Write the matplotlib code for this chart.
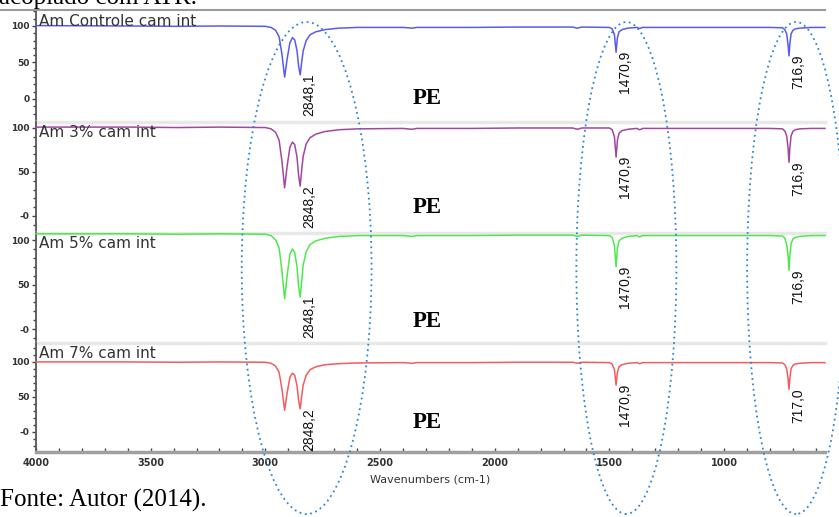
import numpy as np
import matplotlib.pyplot as plt
import matplotlib.transforms as mtransforms
from matplotlib.patches import Ellipse
from matplotlib.ticker import MultipleLocator

# SPECTRA (ATR-FTIR, % transmittance)

wavenumbers = [4000, 3600, 3380, 3200, 3000,
               2975, 2955, 2940, 2928, 2916,
               2905, 2893, 2882, 2872, 2862,
               2855, 2841, 2835, 2822, 2805,
               2780, 2740, 2680, 2600, 2400,
               2360, 2340, 2100, 1900, 1660,
               1640, 1620, 1500, 1488, 1478,
               1465, 1458, 1445, 1420, 1380,
               1368, 1355, 1200, 1000, 800,
               745, 735, 727, 721, 713,
               708, 700, 690, 670, 620, 560]

t_controle = [100.5, 100, 99.5, 100, 99.5,
              98, 94, 85, 62, 30,
              55, 77, 84, 81, 66,
              45, 52, 66, 80, 88,
              92, 95, 97, 98, 98,
              97, 98, 98, 98.5, 98.5,
              97, 98.5, 98, 96, 88,
              84, 92, 95, 97, 98,
              96.5, 98, 98, 98, 98,
              97.5, 95, 89, 74, 76,
              89, 94, 96, 97, 98, 98]

t_3 = [101, 101, 100.5, 101, 100.5,
       99, 95, 86, 63, 32,
       57, 78, 84, 81, 67,
       46, 54, 68, 82, 89,
       93, 96, 98, 99, 99.5,
       98.5, 99.5, 99.5, 100, 100,
       98.5, 100, 100, 98, 90,
       86, 94, 97, 98.5, 99.5,
       98, 99.5, 99.5, 99.5, 99.5,
       99, 96.5, 91, 77, 78,
       91, 96, 98, 99, 99.5, 99.5]

t_5 = [107, 107, 106.5, 107, 106.5,
       105, 100, 91, 66, 34,
       60, 84, 90, 86, 70,
       48, 56, 72, 87, 95,
       99, 102, 104, 105, 105,
       104, 105, 105, 105.5, 105.5,
       104, 105.5, 105, 103, 94,
       91, 99, 102, 104, 105,
       103.5, 105, 105, 105, 105,
       104.5, 102, 95, 82, 83,
       96, 101, 103, 104, 105, 105]

t_7 = [100, 100, 99.5, 100, 99.5,
       98, 94, 85, 62, 31,
       56, 78, 84, 81, 66,
       45, 53, 67, 81, 89,
       93, 96, 97.5, 98.5, 99,
       98, 99, 99, 99.5, 99.5,
       98, 99.5, 99, 97, 89,
       85, 93, 96, 98, 99,
       97.5, 99, 99, 99, 99,
       98.5, 96, 90, 76, 77,
       90, 95, 97, 98, 99, 99]

names = ["Am Controle cam int", "Am 3% cam int", "Am 5% cam int", "Am 7% cam int"]
spectra = [t_controle, t_3, t_5, t_7]
colors = ["#5a5af0", "#a047a0", "#4ee84e", "#f25c5c"]

# labelled peaks (position, minimum)
peak_positions = [[2848.1, 1470.9, 716.9],
                  [2848.2, 1470.9, 716.9],
                  [2848.1, 1470.9, 716.9],
                  [2848.2, 1470.9, 717.0]]
peak_minima = [[33, 64, 59],
               [34, 67, 61],
               [36, 70, 66],
               [33, 67, 61]]

zero_labels = ["0", "-0", "-0", "-0"]

# highlighted bands (centre, width in cm-1)
band_centers = [2820, 1426, 686]
band_widths = [566, 436, 427]

# LAYOUT

W, H = 839, 517
fig = plt.figure(figsize=(W / 100, H / 100), dpi=100)

left, right = 36, 825
panel_px = [(11, 120), (122, 232), (233, 342), (343, 452)]
ylims = [(-28.8, 120.5), (-18.2, 106.8), (-14.6, 107.9), (-28.6, 127)]

axes = []
for i in range(4):
    top, bottom = panel_px[i]
    ax = fig.add_axes([left / W, 1 - bottom / H, (right - left) / W, (bottom - top) / H])
    axes.append(ax)

    wn = np.concatenate([wavenumbers, peak_positions[i]])
    tr = np.concatenate([spectra[i], peak_minima[i]])
    order = np.argsort(-wn)
    ax.plot(wn[order], tr[order], color=colors[i], lw=1.1, clip_on=False, zorder=3)

    ax.set_xlim(4000, 560)
    ax.set_ylim(*ylims[i])

    ax.set_yticks([100, 50, 0], ["100", "50", zero_labels[i]])
    ax.yaxis.set_minor_locator(MultipleLocator(10))
    ax.tick_params(axis="y", which="major", length=3, width=1, color="#444",
                   pad=1.5, labelsize=6.5, labelcolor="#333")
    ax.tick_params(axis="y", which="minor", length=2, width=1, color="#444")
    for lab in ax.get_yticklabels():
        lab.set_fontweight("bold")

    ax.spines["right"].set_visible(False)
    ax.spines["left"].set_color("#555")
    ax.spines["left"].set_linewidth(1.3)
    if i == 0:
        ax.spines["top"].set_visible(False)
    else:
        ax.spines["top"].set_color("#e8e8e8")
        ax.spines["top"].set_linewidth(2.5)
        ax.spines["top"].set_zorder(1)

    if i < 3:
        ax.spines["bottom"].set_visible(False)
        ax.tick_params(axis="x", which="both", bottom=False, labelbottom=False)

    ax.text(0.004, 0.97, names[i], transform=ax.transAxes, ha="left", va="top",
            fontsize=11, color="#333", zorder=4)

    # peak labels
    for pos, val in zip(peak_positions[i], peak_minima[i]):
        ax.annotate(f"{pos:.1f}".replace(".", ","), xy=(pos, val),
                    xytext=(9, 1), textcoords="offset pixels",
                    rotation=90, ha="center", va="top",
                    fontsize=10, family="Liberation Sans", color="#111")

    ax.text(2293, [0, 10, 8, 14][i], "PE", ha="center", va="center",
            fontsize=16.5, fontweight="bold", family="Liberation Serif")

# bottom axis
axb = axes[-1]
axb.spines["bottom"].set_color("#a0a0a0")
axb.spines["bottom"].set_linewidth(2.5)
axb.set_xticks([4000, 3500, 3000, 2500, 2000, 1500, 1000])
axb.xaxis.set_minor_locator(MultipleLocator(100))
axb.tick_params(axis="x", which="both", direction="in", length=3, width=1,
                color="#444", pad=4, labelsize=7, labelcolor="#333")
for lab in axb.get_xticklabels():
    lab.set_fontweight("bold")
axb.set_xlabel("Wavenumbers (cm-1)", fontsize=8, color="#333", labelpad=5)

# page border above the stack
fig.add_artist(plt.Line2D([0, right / W], [1 - 10 / H, 1 - 10 / H],
                          transform=fig.transFigure, color="#9a9a9a", lw=1.5))

# dotted highlight ellipses
blend = mtransforms.blended_transform_factory(axb.transData, fig.transFigure)
for c, w in zip(band_centers, band_widths):
    fig.add_artist(Ellipse((c, 1 - 268 / H), w, 492 / H, transform=blend,
                           fill=False, edgecolor="#2a86d6", lw=1.3,
                           linestyle=(0, (1, 2)), clip_on=False))

# surrounding document text
fig.text(-1 / W, 1 - 4 / H, "acoplado com ATR.", ha="left", va="baseline",
         fontsize=18, family="Liberation Serif")
fig.text(0, 1 - 507 / H, "Fonte: Autor (2014).", ha="left", va="baseline",
         fontsize=18, family="Liberation Serif")

fig.savefig("out.png", dpi=100)
